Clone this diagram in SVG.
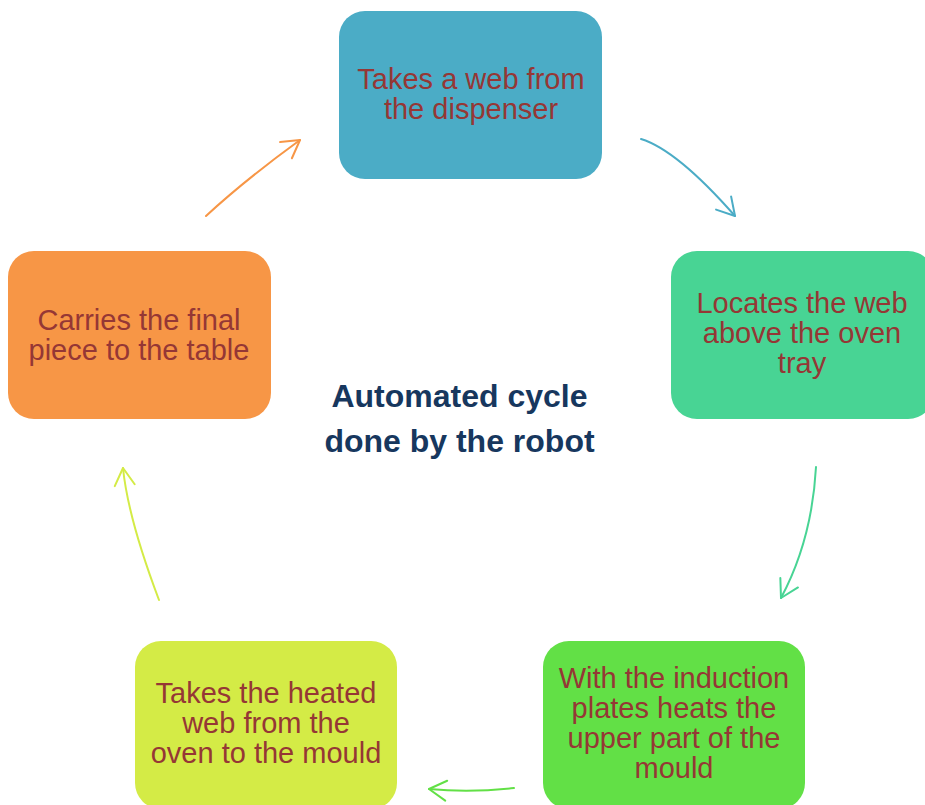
<svg xmlns="http://www.w3.org/2000/svg" width="925" height="805" viewBox="0 0 925 805">
<style>
.node text{font-family:"Liberation Sans",Arial,sans-serif;font-size:29px;fill:#953735;text-anchor:middle}
.title{font-family:"Liberation Sans",Arial,sans-serif;font-size:32px;font-weight:bold;fill:#17375E;text-anchor:middle}
.conn path{fill:none;stroke-width:2;stroke-linecap:round}
.arrowhead{fill:none;stroke-width:2;stroke-linecap:round;stroke-linejoin:round}
</style>
<defs>
<marker id="mBlue" markerUnits="userSpaceOnUse" viewBox="-20 -12 22 24" markerWidth="22" markerHeight="24" refX="0" refY="0" orient="auto" overflow="visible"><path class="arrowhead" stroke="#4BACC6" d="M-17.3,-10 L0,0 L-17.3,10"/></marker>
<marker id="mGreen" markerUnits="userSpaceOnUse" viewBox="-20 -12 22 24" markerWidth="22" markerHeight="24" refX="0" refY="0" orient="auto" overflow="visible"><path class="arrowhead" stroke="#48D494" d="M-17.3,-10 L0,0 L-17.3,10"/></marker>
<marker id="mLime" markerUnits="userSpaceOnUse" viewBox="-20 -12 22 24" markerWidth="22" markerHeight="24" refX="0" refY="0" orient="auto" overflow="visible"><path class="arrowhead" stroke="#62E046" d="M-17.3,-10 L0,0 L-17.3,10"/></marker>
<marker id="mYellow" markerUnits="userSpaceOnUse" viewBox="-20 -12 22 24" markerWidth="22" markerHeight="24" refX="0" refY="0" orient="auto" overflow="visible"><path class="arrowhead" stroke="#D4EB46" d="M-17.3,-10 L0,0 L-17.3,10"/></marker>
<marker id="mOrange" markerUnits="userSpaceOnUse" viewBox="-20 -12 22 24" markerWidth="22" markerHeight="24" refX="0" refY="0" orient="auto" overflow="visible"><path class="arrowhead" stroke="#F79646" d="M-17.3,-10 L0,0 L-17.3,10"/></marker>
</defs>
<rect width="925" height="805" fill="#FFFFFF"/>
<g id="connectors" class="conn">
<path stroke="#4BACC6" d="M641,139 Q677,150 735,216" marker-end="url(#mBlue)"/>
<path stroke="#48D494" d="M816,467 Q812,540 781,598" marker-end="url(#mGreen)"/>
<path stroke="#62E046" d="M514,788 Q470,793 429,789" marker-end="url(#mLime)"/>
<path stroke="#D4EB46" d="M159,600 Q128,518 123,468" marker-end="url(#mYellow)"/>
<path stroke="#F79646" d="M206,216 Q245,180 300,140" marker-end="url(#mOrange)"/>
</g>
<g id="node-dispenser" class="node">
<rect x="339" y="11" width="263" height="168" rx="26" fill="#4BACC6"/>
<text x="471" y="89">Takes a web from</text>
<text x="471" y="119">the dispenser</text>
</g>
<g id="node-oven" class="node">
<rect x="671" y="251" width="263" height="168" rx="26" fill="#48D494"/>
<text x="802" y="313">Locates the web</text>
<text x="802" y="343">above the oven</text>
<text x="802" y="373">tray</text>
</g>
<g id="node-induction" class="node">
<rect x="543" y="641" width="262" height="168" rx="26" fill="#62E046"/>
<text x="674" y="688">With the induction</text>
<text x="674" y="718">plates heats the</text>
<text x="674" y="748">upper part of the</text>
<text x="674" y="778">mould</text>
</g>
<g id="node-mould" class="node">
<rect x="135" y="641" width="262" height="168" rx="26" fill="#D4EB46"/>
<text x="266" y="703">Takes the heated</text>
<text x="266" y="733">web from the</text>
<text x="266" y="763">oven to the mould</text>
</g>
<g id="node-table" class="node">
<rect x="8" y="251" width="263" height="168" rx="26" fill="#F79646"/>
<text x="139" y="330">Carries the final</text>
<text x="139" y="360">piece to the table</text>
</g>
<g id="title">
<text class="title" x="459.5" y="407">Automated cycle</text>
<text class="title" x="459.5" y="452">done by the robot</text>
</g>
</svg>
